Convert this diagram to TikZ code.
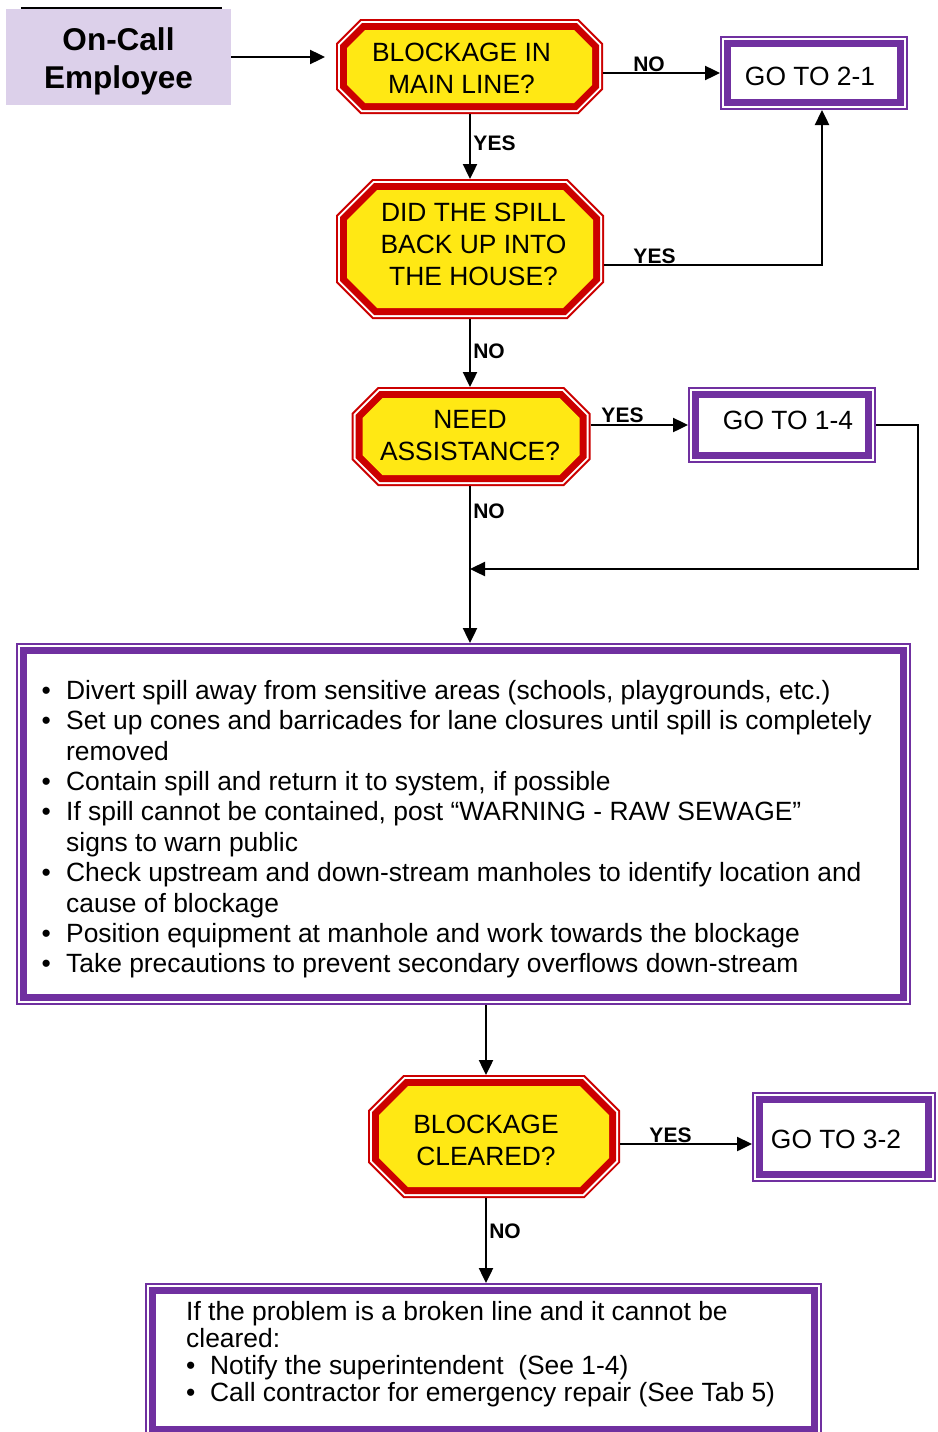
\documentclass[tikz,border=0pt]{standalone}
\usepackage{fontspec}
\setmainfont{Liberation Sans}
\usetikzlibrary{calc,arrows.meta}
\definecolor{signred}{RGB}{204,0,0}
\definecolor{signyellow}{RGB}{255,232,20}
\definecolor{boxpurple}{RGB}{112,48,160}
\definecolor{lavender}{RGB}{220,208,234}
\newcommand\bitem[1]{\makebox[#1][l]{•}}
\newcommand\bcont[1]{\hspace*{#1}}
% octagonal sign drawn around a named (invisible) node; the band is 11pt wide
% outside the yellow face and the face corners are cut by #2
\newcommand\signface[2]{%
  \path[signlayers]
    ($(#1.north west)+(11+#2,11)$) -- ($(#1.north east)+(-11-#2,11)$) --
    ($(#1.north east)+(-11,11+#2)$) -- ($(#1.south east)+(-11,-11-#2)$) --
    ($(#1.south east)+(-11-#2,-11)$) -- ($(#1.south west)+(11+#2,-11)$) --
    ($(#1.south west)+(11,-11-#2)$) -- ($(#1.north west)+(11,11+#2)$) -- cycle;}

\begin{document}
\begin{tikzpicture}[x=1pt,y=-1pt,
  ask/.style={rectangle, inner sep=0pt, outer sep=0pt},
  signlayers/.style={fill=signyellow, line join=miter,
    preaction={draw=signred,line width=22pt},
    preaction={draw=white,line width=18pt},
    preaction={draw=signred,line width=14pt}},
  purplebox/.style={rectangle, inner sep=0pt, outer sep=11pt, fill=white,
    line join=miter,
    preaction={draw=boxpurple,line width=22pt},
    preaction={draw=white,line width=18pt},
    preaction={draw=boxpurple,line width=14pt}},
  qtext/.style={align=center, inner sep=0pt, font=\fontsize{26.4}{32}\selectfont},
  gotext/.style={inner sep=0pt, font=\fontsize{26.4}{30}\selectfont},
  tag/.style={inner sep=0pt, font=\fontsize{21}{24}\selectfont\bfseries},
  flow/.style={line width=2.4pt, -{Triangle[length=15pt,width=14pt]}},
]
\useasboundingbox[fill=white] (0,0) rectangle (937,1432);

% start box
\node[fill=lavender, minimum width=225pt, minimum height=96pt, inner sep=0pt] (emp) at (118.5,57) {};
\node[align=center, inner sep=0pt, font=\fontsize{31.5}{38}\selectfont\bfseries] (empt) at (118.5,61) {On-Call\\Employee};
\draw[line width=1.5pt] ([xshift=15pt,yshift=1pt]emp.north west) -- ([xshift=-9pt,yshift=1pt]emp.north east);

% decision signs (outer size of each sign)
\node[ask, minimum width=267pt, minimum height=95pt] (q1) at (469.5,66.5) {};
\signface{q1}{18}
\node[qtext] (q1t) at (461.5,68) {BLOCKAGE IN\\MAIN LINE?};

\node[ask, minimum width=268pt, minimum height=140pt] (q2) at (470,249) {};
\signface{q2}{30}
\node[qtext] (q2t) at (473.5,244) {DID THE SPILL\\BACK UP INTO\\THE HOUSE?};

\node[ask, minimum width=239pt, minimum height=99pt] (q3) at (471,436.5) {};
\signface{q3}{20}
\node[qtext] (q3t) at (470,436) {NEED\\ASSISTANCE?};

\node[ask, minimum width=252pt, minimum height=123pt] (q4) at (494,1136.5) {};
\signface{q4}{29}
\node[qtext] (q4t) at (486,1140) {BLOCKAGE\\CLEARED?};

% jump boxes
\node[purplebox, minimum width=166pt, minimum height=52pt] (go21) at (814,73) {};
\node[gotext] (go21t) at (810,76.5) {GO TO 2-1};

\node[purplebox, minimum width=166pt, minimum height=54pt] (go14) at (782,425) {};
\node[gotext] (go14t) at (788,420) {GO TO 1-4};

\node[purplebox, minimum width=162pt, minimum height=68pt] (go32) at (844,1137) {};
\node[gotext] (go32t) at (836,1139) {GO TO 3-2};

% action boxes
\node[purplebox, minimum width=873pt, minimum height=340pt] (steps) at (463.5,824) {};
\node[anchor=north west, align=left, inner sep=0pt,
  font=\fontsize{26.4}{30.4}\selectfont] (stepst) at (41.5,680) {%
\bitem{24.5pt}Divert spill away from sensitive areas (schools, playgrounds, etc.)\\
\bitem{24.5pt}Set up cones and barricades for lane closures until spill is completely\\
\bcont{24.5pt}removed\\
\bitem{24.5pt}Contain spill and return it to system, if possible\\
\bitem{24.5pt}If spill cannot be contained, post “WARNING - RAW SEWAGE”\\
\bcont{24.5pt}signs to warn public\\
\bitem{24.5pt}Check upstream and down-stream manholes to identify location and\\
\bcont{24.5pt}cause of blockage\\
\bitem{24.5pt}Position equipment at manhole and work towards the blockage\\
\bitem{24.5pt}Take precautions to prevent secondary overflows down-stream};

\node[purplebox, minimum width=655pt, minimum height=132pt] (repair) at (483.5,1360) {};
\node[anchor=north west, align=left, inner sep=0pt,
  font=\fontsize{26.4}{27}\selectfont] (repairt) at (186,1301) {%
If the problem is a broken line and it cannot be\\
cleared:\\
\bitem{24pt}Notify the superintendent~ (See 1-4)\\
\bitem{24pt}Call contractor for emergency repair (See Tab 5)};

% connectors
\coordinate (c1) at (822,265);
\coordinate (c2) at (918,569);
\coordinate (c3) at (470,569);
\coordinate (c4) at (700,1144);

\draw[flow, shorten >=11pt] (emp.east) -- (emp.east -| q1.west);
\draw[flow] (go21.west -| q1.east) -- (go21.west);
\draw[flow] (c3 |- q1.south) -- (c3 |- q2.north);
\draw[flow] (q2.east |- c1) -- (c1) -- (c1 |- go21.south);
\draw[flow] (c3 |- q2.south) -- (c3 |- q3.north);
\draw[flow] (go14.west -| q3.east) -- (go14.west);
\draw[flow] (go14.east) -- (go14.east -| c2) -- (c2) -- (c3);
\draw[flow] (c3 |- q3.south) -- (c3 |- steps.north);
\draw[flow] (q4t |- steps.south) -- (q4t |- q4.north);
\draw[flow] (q4.east |- c4) -- (go32.west |- c4);
\draw[flow] (q4t |- q4.south) -- (q4t |- repair.north);

% branch labels
\node[tag] (n1) at (649,64) {NO};
\node[tag] (y1) at (494.5,143) {YES};
\node[tag] (y2) at (654.5,256) {YES};
\node[tag] (n2) at (489,351) {NO};
\node[tag] (y3) at (622.5,415) {YES};
\node[tag] (n3) at (489,511) {NO};
\node[tag] (y4) at (670.5,1135) {YES};
\node[tag] (n4) at (505,1231) {NO};
\end{tikzpicture}
\end{document}
